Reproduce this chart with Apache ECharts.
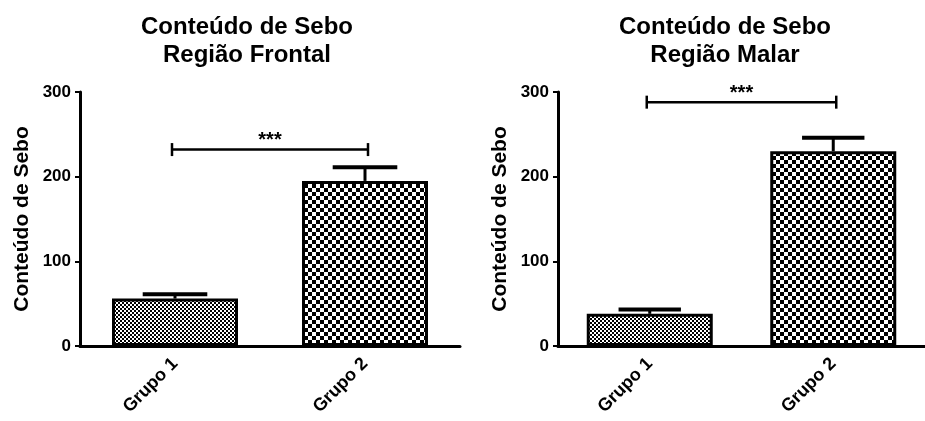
<!DOCTYPE html>
<html>
<head>
<meta charset="utf-8">
<script src="https://cdn.jsdelivr.net/npm/echarts@6/dist/echarts.min.js"></script>
<style>
  html, body { margin: 0; padding: 0; background: #fff; }
  #chart { width: 925px; height: 421px; }
</style>
</head>
<body>
<div id="chart"></div>
<script>
// Sebum content by group, two facial regions
const categories = ['Grupo 1', 'Grupo 2'];
const yTicks = [0, 100, 200, 300];

const frontalMean = [56, 195];
const frontalErr = [5, 16];
const frontalSig = [232];   // bracket level, labelled ***

const malarMean = [38, 230];
const malarErr = [5, 16];
const malarSig = [288];

const titles = ['Conteúdo de Sebo\nRegião Frontal', 'Conteúdo de Sebo\nRegião Malar'];
const axisName = 'Conteúdo de Sebo';
const sigLabel = '***';

const FONT = '"Liberation Sans", Arial, Helvetica, sans-serif';

// checkerboard fills for the bars
function checker(cell) {
  const c = document.createElement('canvas');
  c.width = c.height = cell * 2;
  const ctx = c.getContext('2d');
  ctx.fillStyle = '#fff';
  ctx.fillRect(0, 0, cell * 2, cell * 2);
  ctx.fillStyle = '#000';
  ctx.fillRect(0, 0, cell, cell);
  ctx.fillRect(cell, cell, cell, cell);
  return c;
}
const fineFill = { image: checker(2), repeat: 'repeat' };
const coarseFill = { image: checker(4), repeat: 'repeat' };

const panels = [
  { left: 80, mean: frontalMean, err: frontalErr, sig: frontalSig, titleX: 242 },
  { left: 558, mean: malarMean, err: malarErr, sig: malarSig, titleX: 720 }
];

const grid = [], xAxis = [], yAxis = [], series = [], title = [];

panels.forEach((p, i) => {
  grid.push({ left: p.left, top: 92, width: 380, bottom: 75, containLabel: false });
  title.push({
    text: titles[i], left: p.titleX, top: 8, textAlign: 'center',
    textStyle: { fontFamily: FONT, fontWeight: 'bold', fontSize: 24, lineHeight: 28, color: '#000' }
  });
  xAxis.push({
    type: 'category', gridIndex: i, data: categories,
    axisLine: { lineStyle: { color: '#000', width: 3 } },
    axisTick: { alignWithLabel: true, length: 6, lineStyle: { color: '#000', width: 2 } },
    axisLabel: { rotate: 45, margin: 15, color: '#000', fontFamily: FONT, fontWeight: 'bold', fontSize: 18 }
  });
  yAxis.push({
    type: 'value', gridIndex: i, min: yTicks[0], max: yTicks[yTicks.length - 1], interval: 100,
    name: axisName, nameLocation: 'middle', nameGap: 47, nameRotate: 90,
    nameTextStyle: { fontFamily: FONT, fontWeight: 'bold', fontSize: 21, color: '#000' },
    splitLine: { show: false },
    axisLine: { show: true, lineStyle: { color: '#000', width: 3 } },
    axisTick: { show: true, length: 5, lineStyle: { color: '#000', width: 2 } },
    axisLabel: { margin: 9, color: '#000', fontFamily: FONT, fontWeight: 'bold', fontSize: 17 }
  });

  series.push({
    type: 'bar', xAxisIndex: i, yAxisIndex: i, barWidth: 126, z: 2,
    data: p.mean.map((v, k) => ({
      value: v,
      itemStyle: { color: k === 0 ? fineFill : coarseFill, borderColor: '#000', borderWidth: 3 }
    })),
    emphasis: { disabled: true }
  });

  // SEM error bars (upper half only)
  series.push({
    type: 'custom', xAxisIndex: i, yAxisIndex: i, z: 3, silent: true,
    data: p.mean.map((m, k) => [k, m, p.err[k]]),
    renderItem: (params, api) => {
      const x = api.value(0), m = api.value(1), e = api.value(2);
      const base = api.coord([x, m]);
      const top = api.coord([x, m + e]);
      const half = api.size([1, 0])[0] * 0.17;
      return {
        type: 'group',
        children: [
          { type: 'line', shape: { x1: base[0], y1: base[1], x2: top[0], y2: top[1] },
            style: { stroke: '#000', lineWidth: 3 } },
          { type: 'line', shape: { x1: top[0] - half, y1: top[1], x2: top[0] + half, y2: top[1] },
            style: { stroke: '#000', lineWidth: 4 } }
        ]
      };
    }
  });

  // significance bracket between the two groups
  series.push({
    type: 'custom', xAxisIndex: i, yAxisIndex: i, z: 3, silent: true,
    data: p.sig.map(v => [0, 1, v]),
    renderItem: (params, api) => {
      const a = api.coord([api.value(0), api.value(2)]);
      const b = api.coord([api.value(1), api.value(2)]);
      const h = 6.5;
      return {
        type: 'group',
        children: [
          { type: 'line', shape: { x1: a[0] - 3, y1: a[1], x2: b[0] + 3, y2: b[1] }, style: { stroke: '#000', lineWidth: 2.5 } },
          { type: 'line', shape: { x1: a[0] - 3, y1: a[1] - h, x2: a[0] - 3, y2: a[1] + h }, style: { stroke: '#000', lineWidth: 2.5 } },
          { type: 'line', shape: { x1: b[0] + 3, y1: b[1] - h, x2: b[0] + 3, y2: b[1] + h }, style: { stroke: '#000', lineWidth: 2.5 } },
          { type: 'text', x: (a[0] + b[0]) / 2, y: a[1] + 1,
            style: { text: sigLabel, fill: '#000', font: 'bold 20px ' + FONT, align: 'center', verticalAlign: 'bottom' } }
        ]
      };
    }
  });
});

const chart = echarts.init(document.getElementById('chart'), null, { renderer: 'canvas' });
chart.setOption({ backgroundColor: '#fff', animation: false, title, grid, xAxis, yAxis, series });
</script>
</body>
</html>
